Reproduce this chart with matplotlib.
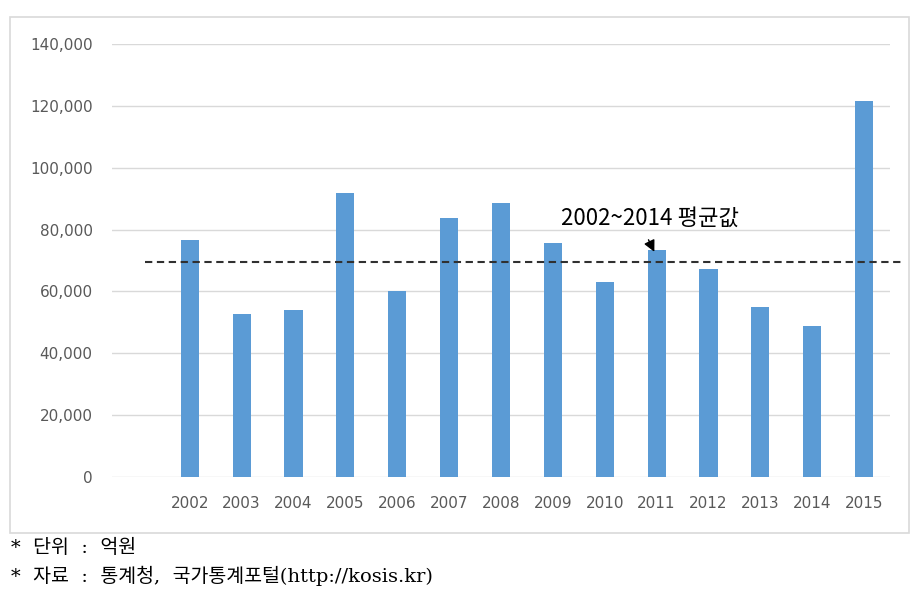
import numpy as np
import matplotlib
matplotlib.use('Agg')
import matplotlib.pyplot as plt
from matplotlib.patches import Rectangle

# 연도별 값 (단위: 억원)
years = ['2002', '2003', '2004', '2005', '2006', '2007', '2008',
         '2009', '2010', '2011', '2012', '2013', '2014', '2015']
values = [76700, 52700, 53900, 91900, 60300, 83800, 88500,
          75600, 63000, 73400, 67200, 55000, 48800, 121600]
avg_line = 69500  # 그림에 그려진 평균선 위치
mean_label = '2002~2014 평균값'
note_unit = '*  단위  :  억원'
note_source = '*  자료  :  통계청,  국가통계포털(http://kosis.kr)'

plt.rcParams['font.family'] = ['Noto Sans CJK KR', 'DejaVu Sans']

fig = plt.figure(figsize=(9.24, 5.91), dpi=100)
fig.patch.set_facecolor('white')

# 차트 테두리
fig.patches.append(Rectangle((10 / 924, 1 - 533 / 591), 899 / 924, 516 / 591,
                             transform=fig.transFigure, fill=False,
                             edgecolor='#d9d9d9', linewidth=1.2))

ax = fig.add_axes([112 / 924, 1 - 477 / 591, 778 / 924, 433 / 591])

x = np.arange(len(years))
ax.bar(x, values, width=0.35, color='#5b9bd5', zorder=3)

ax.set_xlim(-1.5, len(years) - 0.5)
ax.set_ylim(0, 140000)
ax.set_yticks(np.arange(0, 140001, 20000))
ax.set_yticklabels([f'{v:,}' for v in range(0, 140001, 20000)])
ax.set_xticks(x)
ax.set_xticklabels(years)
ax.grid(axis='y', color='#d9d9d9', linewidth=1.0, zorder=0)
ax.tick_params(axis='both', length=0, labelsize=11, colors='#595959')
ax.tick_params(axis='y', pad=14)
ax.tick_params(axis='x', pad=14)
for lab in ax.get_xticklabels() + ax.get_yticklabels():
    lab.set_family('DejaVu Sans')
for s in ax.spines.values():
    s.set_visible(False)

# 평균선 (2002~2014)
ax.plot([33 / 778, 793 / 778], [avg_line, avg_line], transform=ax.get_yaxis_transform(),
        color='#303030', linestyle=(0, (3.5, 2.2)), linewidth=1.5, clip_on=False, zorder=4)

ax.annotate('', xy=(8.98, 72000), xytext=(8.82, 77500),
            arrowprops=dict(arrowstyle='-|>', color='black', lw=1.0, mutation_scale=17),
            zorder=5)
ax.text(7.15, 83500, mean_label, fontsize=16, color='black', ha='left', va='center')

fn = ['DejaVu Serif', 'Noto Sans CJK KR']
fig.text(11 / 924, 1 - 548 / 591, note_unit, fontsize=14, color='black', va='center', family=fn)
fig.text(11 / 924, 1 - 576 / 591, note_source, fontsize=14, color='black', va='center', family=fn)

fig.savefig('out.png', dpi=100)
